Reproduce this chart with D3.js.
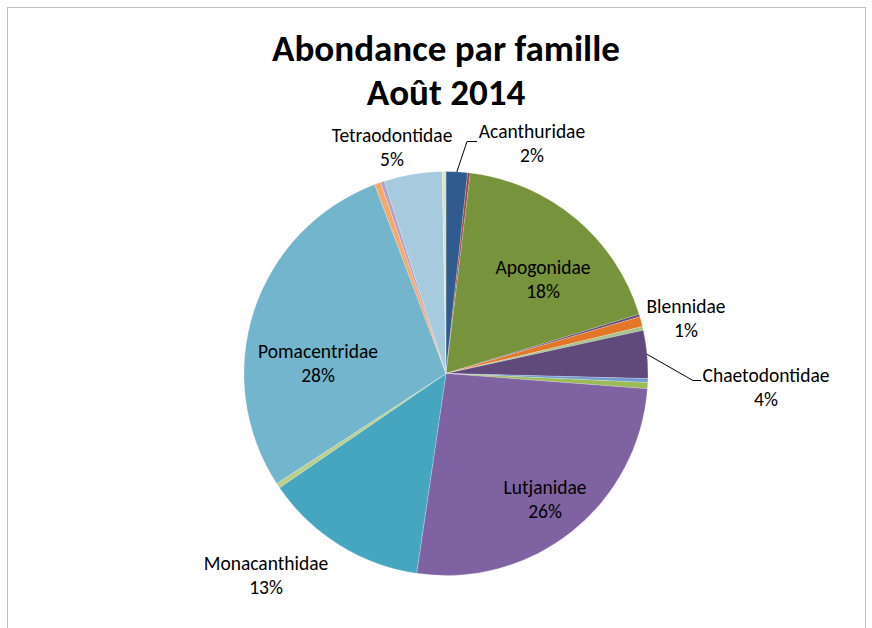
<!DOCTYPE html>
<html><head><meta charset="utf-8">
<script src="https://cdn.jsdelivr.net/npm/d3@7"></script>
<style>html,body{margin:0;padding:0;background:#fff;} svg{display:block}</style>
</head><body><svg id="chart" width="872" height="628"></svg>
<script>
// ---- data (clockwise from 12 o'clock) ----
const families = ["Acanthuridae","Antennariidae","Apogonidae","Aulostomidae","Blennidae","Caesionidae",
  "Chaetodontidae","Gobiidae","Labridae","Lutjanidae","Monacanthidae","Mullidae","Pomacentridae",
  "Scaridae","Serranidae","Tetraodontidae","Zanclidae"];
const counts = [1.7,0.2,18.2,0.2,0.8,0.3,3.8,0.3,0.5,25.9,13.0,0.4,28.2,0.5,0.3,4.6,0.3];
const colors = ["#2F5B8F","#A0403E","#77933C","#5F497A","#E4762A","#A9C18A","#604A7B","#6F9BD1",
  "#9BBB59","#7F62A1","#46A6C0","#B9CF8A","#72B5CD","#F8A96A","#B3A2C7","#A6CADE","#D8E4C8"];
const labelled = ["Acanthuridae","Apogonidae","Blennidae","Chaetodontidae","Lutjanidae",
  "Monacanthidae","Pomacentridae","Tetraodontidae"];
const titleLines = ["Abondance par famille","Août 2014"];

// ---- layout ----
const W = 872, H = 628, cx = 446, cy = 373.5, R = 202;
// label block centres, relative to pie centre
const labelOffsets = {
  Tetraodontidae:[-54,-226], Acanthuridae:[86,-230], Apogonidae:[97,-94], Blennidae:[240,-55],
  Chaetodontidae:[320,14], Lutjanidae:[99,126], Monacanthidae:[-180,202], Pomacentridae:[-128,-10]
};
const leaders = {
  Acanthuridae:[[21,-232],[31,-232]],
  Chaetodontidae:[[247,7],[255,7]]
};

const svg = d3.select("#chart");
svg.append("rect").attr("x",7.5).attr("y",7.5).attr("width",858).attr("height",660)
  .attr("fill","#fff").attr("stroke","#BFBFBF").attr("stroke-width",1);

const font = "Carlito, Calibri, Lato, 'Open Sans', sans-serif";

// title
const title = svg.append("text").attr("text-anchor","middle").attr("font-family",font)
  .attr("font-weight","bold").attr("fill","#000");
title.selectAll("tspan").data(titleLines).join("tspan")
  .attr("x",cx).attr("y",(d,i)=>61+i*44).text(d=>d);
title.attr("font-size",32);
{
  const w = title.select("tspan").node().getComputedTextLength();
  title.attr("font-size", 32*348/w);
}

const data = families.map((f,i)=>({name:f, value:counts[i], color:colors[i]}));
const total = d3.sum(counts);
const pie = d3.pie().value(d=>d.value).sort(null).startAngle(0).endAngle(2*Math.PI);
const arcs = pie(data);
const arc = d3.arc().innerRadius(0).outerRadius(R);

const g = svg.append("g").attr("transform",`translate(${cx},${cy})`);
g.selectAll("path").data(arcs).join("path")
  .attr("d",arc).attr("fill",d=>d.data.color)
  .attr("stroke","#ffffff").attr("stroke-opacity",0.35).attr("stroke-width",0.6);

// leader lines
arcs.filter(a=>leaders[a.data.name]).forEach(a=>{
  const m = (a.startAngle+a.endAngle)/2;
  const p0 = [Math.sin(m)*R, -Math.cos(m)*R];
  const pts = [p0, ...leaders[a.data.name]];
  g.append("path").attr("d", d3.line()(pts)).attr("fill","none")
    .attr("stroke","#000").attr("stroke-width",1);
});

// labels
const labelSize = 19.5;
arcs.filter(a=>labelled.includes(a.data.name)).forEach(a=>{
  const [dx,dy] = labelOffsets[a.data.name];
  const t = g.append("text").attr("text-anchor","middle").attr("font-family",font)
    .attr("font-size",labelSize).attr("fill","#000");
  t.append("tspan").attr("x",dx).attr("y",dy-12+6.5).text(a.data.name);
  t.append("tspan").attr("x",dx).attr("y",dy+12+6.5)
    .text(Math.round(a.data.value/total*100)+"%");
});
</script>
</body></html>
